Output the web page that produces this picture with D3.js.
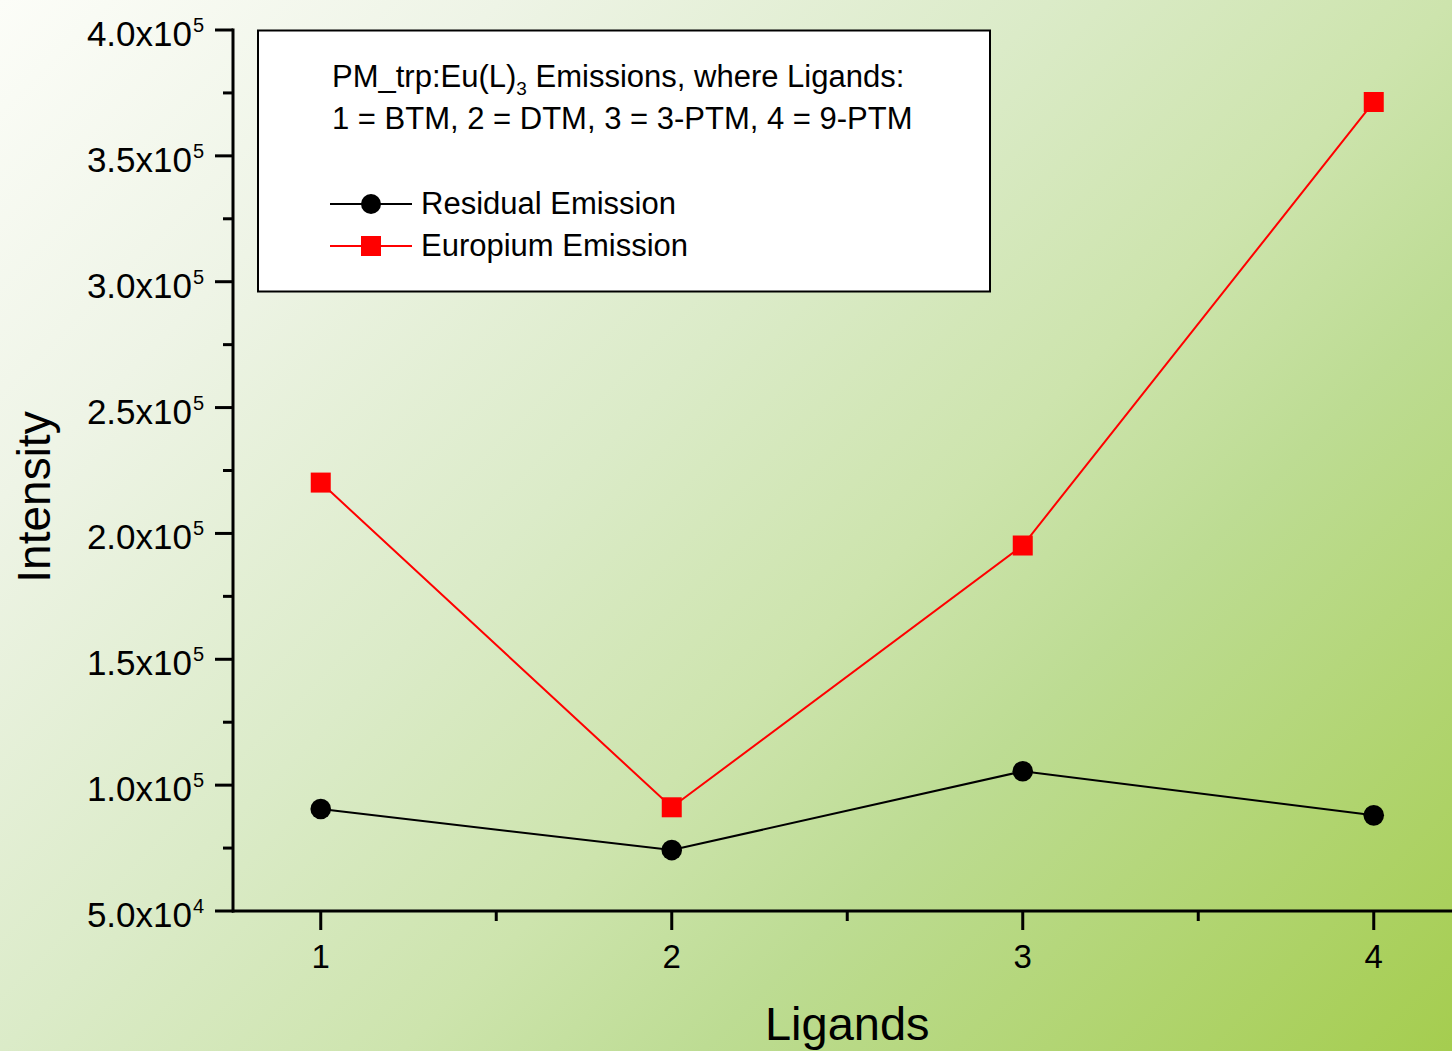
<!DOCTYPE html>
<html><head><meta charset="utf-8">
<script src="https://cdn.jsdelivr.net/npm/d3@7"></script>
<style>html,body{margin:0;padding:0;overflow:hidden;background:#fff}svg{display:block}text{font-family:"Liberation Sans",Arial,sans-serif;fill:#000}</style>
</head><body>
<script>
const ligands = [1, 2, 3, 4];
const residualEmission = [90500, 74200, 105500, 88000];
const europiumEmission = [220200, 91200, 195200, 371400];
const yTickMantissa = ["5.0", "1.0", "1.5", "2.0", "2.5", "3.0", "3.5", "4.0"];
const yTickExponent = ["4", "5", "5", "5", "5", "5", "5", "5"];
const yTickValues = [50000, 100000, 150000, 200000, 250000, 300000, 350000, 400000];
const xTickLabels = ["1", "2", "3", "4"];
const legendTitle = ["PM_trp:Eu(L)", "3", " Emissions, where Ligands:"];
const legendLine2 = "1 = BTM, 2 = DTM, 3 = 3-PTM, 4 = 9-PTM";
const seriesNames = ["Residual Emission", "Europium Emission"];

const W = 1452, H = 1051;
const svg = d3.select("body").append("svg").attr("width", W).attr("height", H);
const defs = svg.append("defs");
const grad = defs.append("linearGradient").attr("id", "bg")
  .attr("gradientUnits", "userSpaceOnUse")
  .attr("x1", 0).attr("y1", 0).attr("x2", 1251).attr("y2", 1251);
[[0, "#fcfdf8"], [0.2, "#eef4e6"], [0.42, "#dbebc8"], [0.58, "#cde4ad"], [0.7, "#bddc93"], [1, "#a5cd4f"]]
  .forEach(([o, c]) => grad.append("stop").attr("offset", o).attr("stop-color", c));
svg.append("rect").attr("width", W).attr("height", H).attr("fill", "url(#bg)");

const x = d3.scaleLinear().domain([0.75, 4.25]).range([233, 233 + 3.5 * 351]);
const y = d3.scaleLinear().domain([50000, 400000]).range([911, 30]);

// Y axis
const yAxis = svg.append("g");
yAxis.append("line").attr("x1", 233).attr("x2", 233).attr("y1", y(400000) - 1.5).attr("y2", y(50000) + 1.5)
  .attr("stroke", "#000").attr("stroke-width", 3);
const yMinor = d3.range(75000, 400000, 50000);
yAxis.selectAll(".ymaj").data(yTickValues).enter().append("line")
  .attr("x1", 215).attr("x2", 233).attr("y1", d => y(d)).attr("y2", d => y(d))
  .attr("stroke", "#000").attr("stroke-width", 3);
yAxis.selectAll(".ymin").data(yMinor).enter().append("line")
  .attr("x1", 223).attr("x2", 233).attr("y1", d => y(d)).attr("y2", d => y(d))
  .attr("stroke", "#000").attr("stroke-width", 3);
yAxis.selectAll(".ylab").data(yTickValues).enter().append("text")
  .attr("x", 192).attr("y", d => y(d) + 16).attr("text-anchor", "end")
  .attr("font-size", 35).text((d, i) => yTickMantissa[i] + "x10");
yAxis.selectAll(".yexp").data(yTickValues).enter().append("text")
  .attr("x", 193).attr("y", d => y(d) + 2).attr("text-anchor", "start")
  .attr("font-size", 20).text((d, i) => yTickExponent[i]);

// X axis
const xAxis = svg.append("g");
xAxis.append("line").attr("x1", 232).attr("x2", W).attr("y1", 911).attr("y2", 911)
  .attr("stroke", "#000").attr("stroke-width", 3);
xAxis.selectAll(".xmaj").data(ligands).enter().append("line")
  .attr("x1", d => x(d)).attr("x2", d => x(d)).attr("y1", 911).attr("y2", 930)
  .attr("stroke", "#000").attr("stroke-width", 3);
xAxis.selectAll(".xmin").data([1.5, 2.5, 3.5]).enter().append("line")
  .attr("x1", d => x(d)).attr("x2", d => x(d)).attr("y1", 911).attr("y2", 921)
  .attr("stroke", "#000").attr("stroke-width", 3);
xAxis.selectAll(".xlab").data(ligands).enter().append("text")
  .attr("x", d => x(d)).attr("y", 968).attr("text-anchor", "middle")
  .attr("font-size", 33).text((d, i) => xTickLabels[i]);

// Axis titles
svg.append("text").attr("transform", "translate(50," + 497 + ") rotate(-90)")
  .attr("text-anchor", "middle").attr("font-size", 46).text("Intensity");
svg.append("text").attr("x", x(2.5)).attr("y", 1040).attr("text-anchor", "middle")
  .attr("font-size", 47).text("Ligands");

// Series
const line = d3.line().x((d, i) => x(ligands[i])).y(d => y(d));
svg.append("path").datum(europiumEmission).attr("d", line).attr("fill", "none")
  .attr("stroke", "#ff0000").attr("stroke-width", 2);
svg.append("path").datum(residualEmission).attr("d", line).attr("fill", "none")
  .attr("stroke", "#000").attr("stroke-width", 2);
svg.selectAll(".sq").data(europiumEmission).enter().append("rect")
  .attr("x", (d, i) => x(ligands[i]) - 10).attr("y", d => y(d) - 10)
  .attr("width", 20).attr("height", 20).attr("fill", "#ff0000");
svg.selectAll(".ci").data(residualEmission).enter().append("circle")
  .attr("cx", (d, i) => x(ligands[i])).attr("cy", d => y(d)).attr("r", 10.3).attr("fill", "#000");

// Legend
const lg = svg.append("g");
lg.append("rect").attr("x", 258).attr("y", 30.5).attr("width", 732).attr("height", 261)
  .attr("fill", "#fff").attr("stroke", "#000").attr("stroke-width", 2);
const t1 = lg.append("text").attr("x", 332).attr("y", 87).attr("font-size", 31);
t1.append("tspan").text(legendTitle[0]);
t1.append("tspan").attr("font-size", 19).attr("dy", 8).text(legendTitle[1]);
t1.append("tspan").attr("dy", -8).text(legendTitle[2]);
lg.append("text").attr("x", 332).attr("y", 129).attr("font-size", 31).text(legendLine2);
const colors = ["#000", "#ff0000"];
seriesNames.forEach((name, i) => {
  const cy = 204 + i * 42;
  lg.append("line").attr("x1", 330).attr("x2", 412).attr("y1", cy).attr("y2", cy)
    .attr("stroke", colors[i]).attr("stroke-width", 2);
  if (i === 0) lg.append("circle").attr("cx", 371).attr("cy", cy).attr("r", 10).attr("fill", "#000");
  else lg.append("rect").attr("x", 361).attr("y", cy - 10).attr("width", 20).attr("height", 20).attr("fill", "#ff0000");
  lg.append("text").attr("x", 421).attr("y", cy + 10).attr("font-size", 31).text(name);
});
</script>
</body></html>
